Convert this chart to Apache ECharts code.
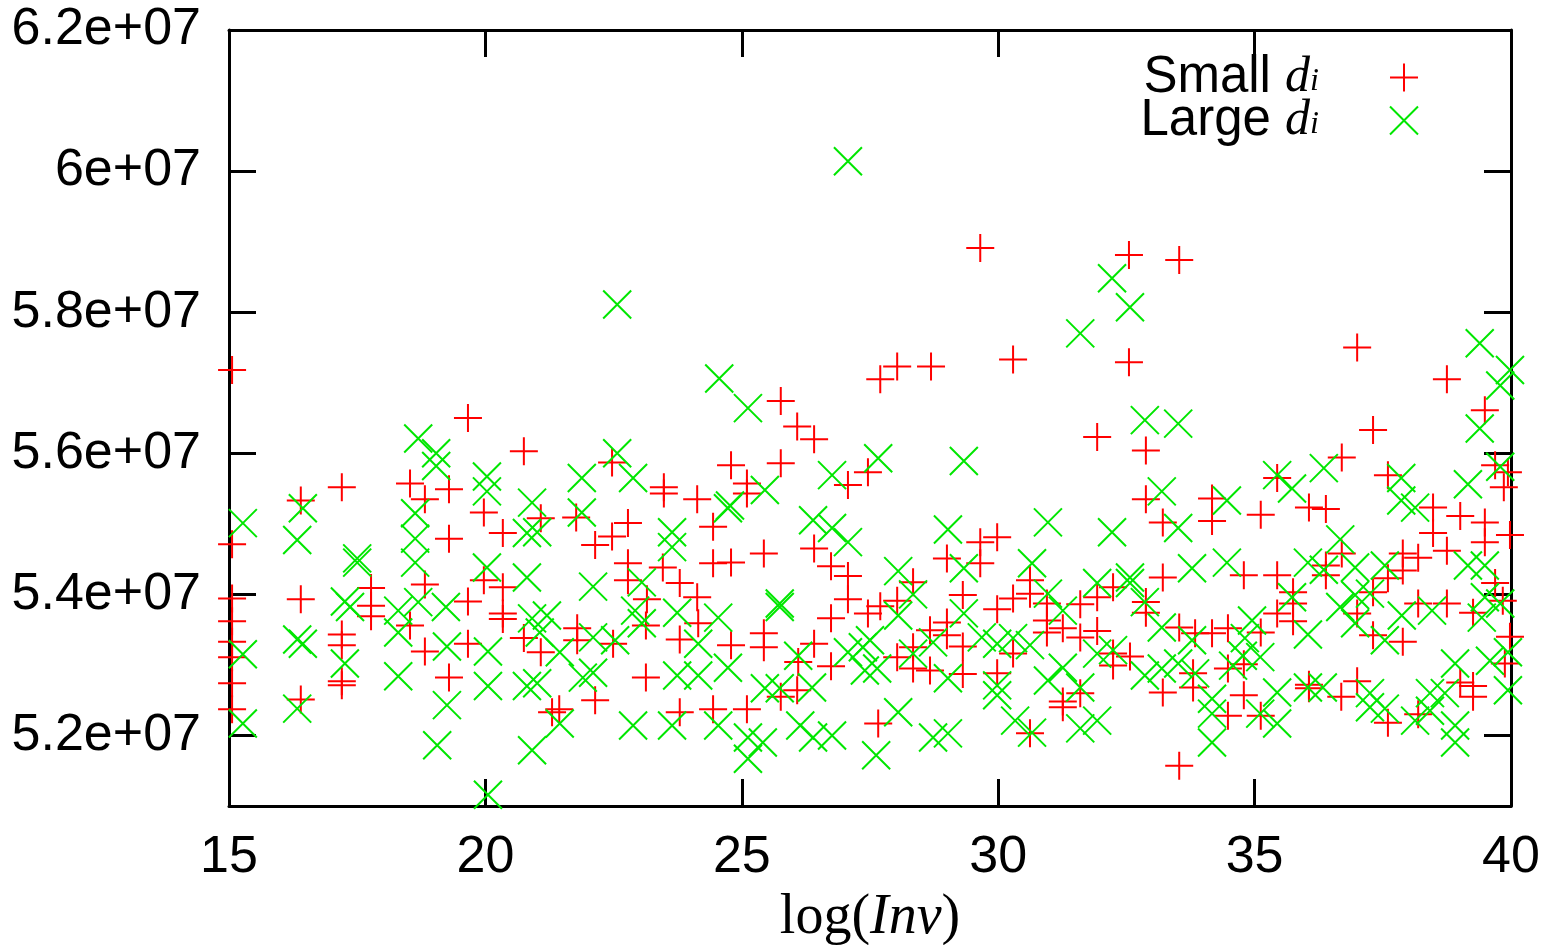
<!DOCTYPE html>
<html>
<head>
<meta charset="utf-8">
<script src="https://cdn.jsdelivr.net/npm/echarts@6/dist/echarts.min.js"></script>
<style>html,body{margin:0;padding:0;background:#fff}#c{width:1562px;height:945px}</style>
</head>
<body>
<div id="c"></div>
<script>
// x: log(Inv); y: value in units of 1e7
const smallX = [15.06,15.06,15.06,15.06,15.06,15.06,15.06,15.06,16.40,16.40,16.40,17.20,17.20,17.20,17.20,17.20,17.77,17.77,17.77,18.53,18.53,18.82,18.82,18.82,19.29,19.29,19.29,19.66,19.66,19.66,19.97,19.97,20.34,20.34,20.34,20.34,20.75,20.75,21.08,21.08,21.30,21.44,21.79,21.79,21.77,22.14,22.14,22.47,22.47,22.49,22.78,22.78,22.78,23.13,23.13,23.15,23.46,23.48,23.48,23.79,23.79,23.79,24.13,24.13,24.15,24.44,24.44,24.44,24.79,24.79,24.79,25.10,25.10,25.10,25.43,25.43,25.43,25.76,25.76,25.76,26.08,26.08,26.10,26.41,26.41,26.41,26.74,26.74,26.74,27.07,27.07,27.07,27.46,27.46,27.66,27.70,27.70,28.03,28.03,28.03,28.34,28.34,28.34,28.67,28.67,28.69,29.00,29.00,29.00,29.31,29.31,29.31,29.65,29.65,29.65,29.98,29.98,29.98,30.29,30.29,30.29,30.62,30.62,30.62,30.95,30.95,30.95,31.26,31.26,31.26,31.60,31.60,31.60,31.93,31.93,31.93,32.24,32.24,32.24,32.55,32.55,32.57,32.88,32.88,32.88,32.88,33.21,33.21,33.21,33.53,33.53,33.53,33.80,33.80,33.84,34.17,34.17,34.17,34.48,34.48,34.48,34.79,34.79,34.79,35.12,35.12,35.12,35.44,35.44,35.44,35.75,35.75,35.75,36.06,36.06,36.06,36.39,36.39,36.39,36.69,36.70,36.70,37.00,37.00,37.00,37.31,37.31,37.31,37.60,37.60,37.60,37.89,37.89,37.89,38.19,38.19,38.19,38.48,38.48,38.75,38.75,38.75,39.01,39.01,39.26,39.26,39.26,39.49,39.49,39.49,39.69,39.69,39.84,39.86,39.88,39.94,39.98,39.98];
const smallY = [5.718,5.471,5.394,5.362,5.333,5.311,5.274,5.237,5.533,5.393,5.251,5.552,5.343,5.328,5.277,5.271,5.409,5.384,5.369,5.557,5.356,5.535,5.414,5.319,5.549,5.479,5.282,5.650,5.390,5.330,5.516,5.420,5.487,5.410,5.373,5.365,5.603,5.338,5.508,5.318,5.233,5.237,5.352,5.335,5.509,5.470,5.250,5.587,5.482,5.330,5.501,5.444,5.420,5.356,5.282,5.393,5.438,5.552,5.543,5.416,5.336,5.233,5.535,5.396,5.359,5.496,5.444,5.237,5.583,5.445,5.328,5.557,5.543,5.237,5.458,5.345,5.325,5.674,5.586,5.255,5.638,5.264,5.304,5.620,5.465,5.330,5.440,5.366,5.298,5.555,5.426,5.393,5.573,5.373,5.217,5.705,5.383,5.723,5.391,5.311,5.417,5.325,5.295,5.349,5.292,5.723,5.451,5.360,5.342,5.399,5.326,5.287,5.891,5.474,5.444,5.481,5.379,5.288,5.733,5.394,5.316,5.420,5.401,5.203,5.387,5.363,5.346,5.352,5.248,5.240,5.386,5.339,5.260,5.623,5.396,5.348,5.410,5.316,5.299,5.881,5.729,5.312,5.604,5.535,5.389,5.374,5.502,5.424,5.261,5.874,5.353,5.157,5.288,5.268,5.345,5.536,5.504,5.345,5.352,5.295,5.228,5.427,5.301,5.257,5.513,5.346,5.228,5.565,5.427,5.373,5.403,5.387,5.362,5.523,5.272,5.267,5.521,5.441,5.427,5.255,5.594,5.458,5.750,5.373,5.277,5.633,5.403,5.342,5.569,5.423,5.218,5.458,5.434,5.333,5.452,5.387,5.230,5.523,5.487,5.705,5.462,5.387,5.511,5.275,5.374,5.270,5.255,5.661,5.502,5.474,5.583,5.416,5.391,5.552,5.302,5.573,5.484,5.340];
const largeX = [15.27,15.27,15.27,16.33,16.33,16.33,16.44,16.44,17.26,17.26,17.36,17.50,17.50,18.30,18.30,18.30,18.63,18.63,18.63,18.69,18.69,19.04,19.04,19.06,19.23,19.25,19.25,20.03,20.03,20.03,20.05,20.05,20.05,20.81,20.81,20.81,20.91,20.91,20.91,21.01,21.01,21.06,21.20,21.45,21.45,21.88,21.88,22.10,22.10,22.10,21.90,22.53,22.57,22.57,22.88,22.88,22.92,23.05,23.05,23.64,23.64,23.64,23.74,23.74,24.15,24.15,24.54,24.54,24.56,24.73,24.77,24.73,25.12,25.12,25.12,25.41,25.45,25.45,25.74,25.74,25.74,26.10,26.14,26.37,26.39,26.39,26.76,26.76,26.76,27.07,27.07,27.07,27.36,27.40,27.62,27.64,27.66,27.50,28.05,28.05,28.05,28.34,28.34,28.73,28.73,29.02,29.02,29.02,29.33,29.33,29.33,29.68,29.98,29.98,29.98,30.29,30.33,30.62,30.66,30.66,30.97,30.97,30.97,31.26,31.26,31.60,31.60,31.60,31.93,31.93,31.93,32.22,32.22,32.24,32.57,32.57,32.57,32.86,32.86,32.86,33.19,33.19,33.19,33.51,33.51,33.51,33.78,33.78,33.84,34.17,34.17,34.17,34.46,34.46,34.58,34.77,34.81,34.95,35.11,35.11,35.44,35.44,35.44,35.73,35.73,36.04,36.04,36.04,36.33,36.35,36.35,36.67,36.67,36.96,36.96,36.96,37.25,37.25,37.25,37.54,37.54,37.54,37.86,37.86,37.87,38.13,38.13,38.46,38.42,38.42,38.71,38.91,38.91,38.91,39.16,39.16,39.39,39.39,39.43,39.49,39.49,39.59,39.79,39.79,39.79,39.94,39.94,39.98];
const largeY = [5.501,5.315,5.217,5.477,5.336,5.238,5.522,5.330,5.390,5.302,5.382,5.451,5.445,5.377,5.346,5.284,5.515,5.479,5.445,5.621,5.389,5.600,5.582,5.186,5.382,5.326,5.243,5.567,5.546,5.438,5.319,5.270,5.116,5.487,5.424,5.270,5.530,5.366,5.179,5.488,5.274,5.346,5.370,5.318,5.217,5.565,5.516,5.411,5.339,5.289,5.282,5.335,5.811,5.600,5.565,5.214,5.377,5.417,5.359,5.488,5.467,5.214,5.374,5.285,5.330,5.285,5.367,5.214,5.706,5.522,5.526,5.296,5.664,5.197,5.167,5.190,5.548,5.267,5.387,5.382,5.267,5.313,5.214,5.268,5.505,5.197,5.569,5.494,5.200,6.014,5.474,5.318,5.325,5.292,5.172,5.295,5.593,5.335,5.433,5.370,5.233,5.400,5.316,5.332,5.197,5.492,5.281,5.203,5.589,5.437,5.373,5.339,5.330,5.271,5.257,5.338,5.221,5.328,5.444,5.204,5.502,5.401,5.278,5.377,5.296,5.770,5.268,5.210,5.416,5.316,5.221,5.848,5.488,5.321,5.807,5.424,5.416,5.647,5.389,5.285,5.546,5.353,5.295,5.642,5.494,5.302,5.437,5.335,5.288,5.252,5.231,5.190,5.533,5.445,5.299,5.313,5.338,5.363,5.311,5.231,5.569,5.261,5.217,5.550,5.396,5.445,5.343,5.268,5.268,5.579,5.435,5.478,5.382,5.438,5.399,5.359,5.401,5.260,5.240,5.441,5.335,5.238,5.565,5.533,5.370,5.523,5.221,5.377,5.260,5.235,5.260,5.302,5.214,5.190,5.556,5.441,5.756,5.635,5.367,5.441,5.396,5.306,5.696,5.581,5.387,5.318,5.264,5.718];
const xTicks = [15, 20, 25, 30, 35, 40];
const yTicks = [5.2e7, 5.4e7, 5.6e7, 5.8e7, 6.0e7, 6.2e7];
const seriesNames = ['Small', 'Large'];

const toPairs = (xs, ys) => xs.map((x, i) => [x, ys[i] * 1e7]);
const fmtY = v => parseFloat((v / 1e7).toFixed(2)) + 'e+07';

const chart = echarts.init(document.getElementById('c'), null, {renderer: 'canvas'});
const axisLineStyle = {color: '#000', width: 3};
const tickStyle = {show: true, inside: true, length: 27, lineStyle: {color: '#000', width: 3}};
const labelFont = {fontFamily: 'Liberation Sans', fontSize: 52, color: '#000'};

chart.setOption({
  animation: false,
  backgroundColor: '#fff',
  grid: {left: 229, top: 30, right: 51, bottom: 139, outerBoundsMode: 'none'},
  legend: {
    orient: 'vertical', align: 'right', right: 138, top: 47,
    itemWidth: 28, itemHeight: 28, itemGap: -8,
    selectedMode: false,
    data: seriesNames,
    formatter: n => '{t|' + n + ' }{d|d}{s|i}',
    textStyle: {
      padding: [0, 66, 0, 0],
      rich: {
        t: {fontFamily: 'Liberation Sans', fontSize: 51, color: '#000', lineHeight: 40},
        d: {fontFamily: 'Liberation Serif', fontStyle: 'italic', fontSize: 50, color: '#000', lineHeight: 40},
        s: {fontFamily: 'Liberation Serif', fontStyle: 'italic', fontSize: 32, color: '#000', lineHeight: 14, verticalAlign: 'bottom'}
      }
    }
  },
  xAxis: [{
    type: 'value', min: 15, max: 40, interval: 5, position: 'bottom',
    axisLine: {show: true, lineStyle: axisLineStyle},
    axisTick: Object.assign({customValues: xTicks}, tickStyle),
    axisLabel: Object.assign({customValues: xTicks, margin: 26}, labelFont),
    splitLine: {show: false},
    name: '{n|log(}{i|Inv}{n|)}', nameLocation: 'middle', nameGap: 84,
    nameTextStyle: {rich: {
      n: {fontFamily: 'Liberation Serif', fontSize: 56, color: '#000'},
      i: {fontFamily: 'Liberation Serif', fontStyle: 'italic', fontSize: 56, color: '#000'}
    }}
  }, {
    type: 'value', min: 15, max: 40, interval: 5, position: 'top',
    axisLine: {show: true, lineStyle: axisLineStyle},
    axisTick: Object.assign({customValues: xTicks}, tickStyle),
    axisLabel: {show: false}, splitLine: {show: false}
  }],
  yAxis: [{
    type: 'value', min: 5.1e7, max: 6.2e7, position: 'left',
    axisLine: {show: true, lineStyle: axisLineStyle},
    axisTick: Object.assign({customValues: yTicks}, tickStyle),
    axisLabel: Object.assign({customValues: yTicks, margin: 28, formatter: fmtY}, labelFont),
    splitLine: {show: false}
  }, {
    type: 'value', min: 5.1e7, max: 6.2e7, position: 'right',
    axisLine: {show: true, lineStyle: axisLineStyle},
    axisTick: Object.assign({customValues: yTicks}, tickStyle),
    axisLabel: {show: false}, splitLine: {show: false}
  }],
  series: [{
    name: seriesNames[0], type: 'scatter', xAxisIndex: 0, yAxisIndex: 0,
    data: toPairs(smallX, smallY),
    symbol: 'path://M14,0L14,28M0,14L28,14', symbolSize: 28,
    itemStyle: {color: 'rgba(0,0,0,0)', borderColor: '#ff0000', borderWidth: 2, opacity: 1},
    emphasis: {disabled: true}
  }, {
    name: seriesNames[1], type: 'scatter', xAxisIndex: 0, yAxisIndex: 0,
    data: toPairs(largeX, largeY),
    symbol: 'path://M0,0L28,28M28,0L0,28', symbolSize: 28,
    itemStyle: {color: 'rgba(0,0,0,0)', borderColor: '#00e600', borderWidth: 2, opacity: 1},
    emphasis: {disabled: true}
  }]
});
</script>
</body>
</html>
